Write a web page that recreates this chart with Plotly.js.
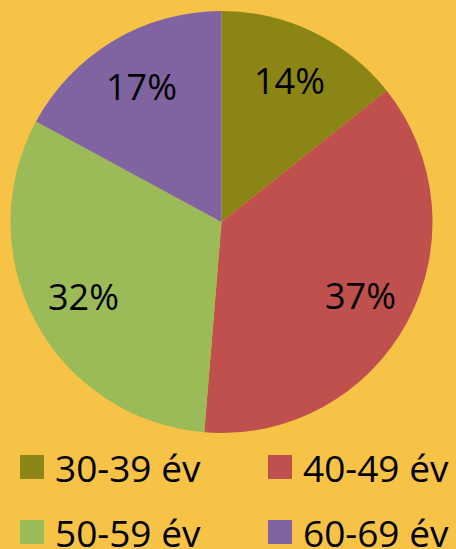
<!DOCTYPE html>
<html><head><meta charset="utf-8">
<script src="https://cdn.plot.ly/plotly-3.0.1.min.js"></script>
<style>html,body{margin:0;padding:0;background:#F6C346;}</style>
</head><body>
<div id="chart" style="width:456px;height:549px;"></div>
<script>
var categories = ['30-39 év', '40-49 év', '50-59 év', '60-69 év'];
var values = [14.3, 37.0, 31.6, 17.1];
var pctLabels = ['14%', '37%', '32%', '17%'];
var colors = ['#8B8515', '#C0504D', '#9BBB59', '#8064A2'];

var W = 456, H = 549;
var cx = 221.5, cy = 222, R = 211;
var FONT = '"Open Sans", sans-serif';

var trace = {
  type: 'pie',
  labels: categories,
  values: values,
  sort: false,
  direction: 'clockwise',
  rotation: 0,
  marker: {colors: colors, line: {width: 0}},
  textinfo: 'none',
  hoverinfo: 'label+percent',
  showlegend: false,
  domain: {x: [(cx - R) / W, (cx + R) / W], y: [1 - (cy + R) / H, 1 - (cy - R) / H]}
};

var annotations = [];
var shapes = [];
var total = values.reduce(function (a, b) { return a + b; }, 0);
var cum = 0;
for (var i = 0; i < values.length; i++) {
  var mid = (cum + values[i] / 2) / total * 2 * Math.PI;
  cum += values[i];
  var rr = 0.745 * R;
  var px = cx + rr * Math.sin(mid);
  var py = cy - rr * Math.cos(mid);
  annotations.push({
    xref: 'paper', yref: 'paper', x: px / W, y: 1 - py / H,
    xanchor: 'center', yanchor: 'middle', showarrow: false,
    text: pctLabels[i], font: {family: FONT, size: 36, color: '#000'}
  });
}
// legend: 2 columns x 2 rows
var colX = [20, 268], rowY = [467, 532], sq = 24;
for (var j = 0; j < categories.length; j++) {
  var lx = colX[j % 2], ly = rowY[Math.floor(j / 2)];
  shapes.push({
    type: 'rect', xref: 'paper', yref: 'paper',
    x0: lx / W, x1: (lx + sq) / W, y0: 1 - (ly + sq / 2) / H, y1: 1 - (ly - sq / 2) / H,
    fillcolor: colors[j], line: {width: 0}
  });
  annotations.push({
    xref: 'paper', yref: 'paper', x: (lx + sq + 10) / W, y: 1 - ly / H,
    xanchor: 'left', yanchor: 'middle', showarrow: false, borderpad: 0,
    text: categories[j], font: {family: FONT, size: 37, color: '#000'}
  });
}

var layout = {
  width: W, height: H,
  margin: {l: 0, r: 0, t: 0, b: 0},
  paper_bgcolor: '#F6C346',
  plot_bgcolor: '#F6C346',
  showlegend: false,
  annotations: annotations,
  shapes: shapes
};
Plotly.newPlot('chart', [trace], layout, {displayModeBar: false, staticPlot: true});
</script>
</body></html>
